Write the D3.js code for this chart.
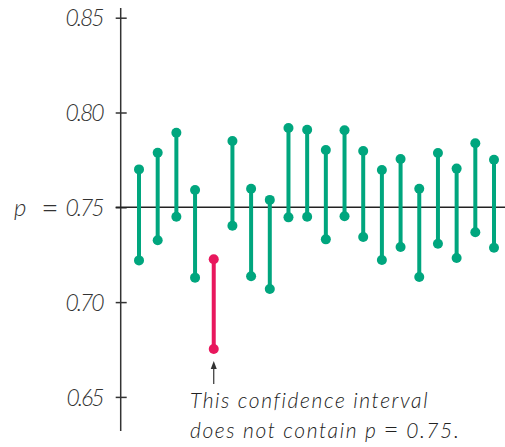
<!DOCTYPE html>
<html><head><meta charset="utf-8">
<script src="https://cdn.jsdelivr.net/npm/d3@7"></script>
<style>
html,body{margin:0;padding:0;background:#fff;}
svg text{font-family:Lato,"Open Sans",sans-serif;}
</style></head>
<body><svg id="c" width="505" height="447"></svg>
<script>
const intervals = d3.range(1, 21);
const upper = [0.7700,0.7788,0.7893,0.7591,0.7226,0.7850,0.7598,0.7539,0.7918,0.7909,0.7802,0.7906,0.7797,0.7697,0.7755,0.7598,0.7786,0.7704,0.7838,0.7751];
const lower = [0.7220,0.7326,0.7450,0.7129,0.6753,0.7403,0.7136,0.7069,0.7447,0.7450,0.7331,0.7453,0.7343,0.7222,0.7291,0.7132,0.7308,0.7233,0.7368,0.7287];
const tickValues = [0.65,0.70,0.75,0.80,0.85];
const trueP = 0.75;
const noteLines = ["This confidence interval", "does not contain "];

const svg = d3.select("#c");
const x = d3.scalePoint().domain(intervals).range([139, 494]);
const y = d3.scaleLinear().domain([0.65, 0.85]).range([396.9, 17.7]);
const axisX = 120.7;
const green = "#00a67e", red = "#e8175d", ink = "#333";

// axis
svg.append("line").attr("x1",axisX).attr("x2",axisX).attr("y1",8).attr("y2",431)
  .attr("stroke",ink).attr("stroke-width",1.5);
const ax = svg.append("g").attr("transform",`translate(${axisX},0)`)
  .call(d3.axisLeft(y).tickValues(tickValues).tickSize(5).tickSizeOuter(0).tickPadding(20)
    .tickFormat(d3.format(".2f")));
ax.select(".domain").remove();
ax.selectAll(".tick line").attr("x2",6).attr("x1",-5).attr("stroke",ink).attr("stroke-width",1.5);
ax.selectAll(".tick text").attr("fill",ink).attr("font-size",23).attr("font-style","italic")
  .attr("font-weight",300).attr("x",-18).attr("letter-spacing",-2).attr("dy","0.36em");

// "p =" prefix for the 0.75 tick
svg.append("text").attr("x",14).attr("y",y(trueP)).attr("dy","0.36em")
  .attr("fill",ink).attr("font-size",24).attr("font-style","italic").attr("font-weight",300).text("p");
svg.append("text").attr("x",50).attr("y",y(trueP)).attr("dy","0.36em").attr("text-anchor","middle")
  .attr("fill",ink).attr("font-size",30).attr("font-weight",300).text("=");

// horizontal reference
svg.append("line").attr("x1",axisX-5).attr("x2",505).attr("y1",y(trueP)).attr("y2",y(trueP))
  .attr("stroke","#222").attr("stroke-width",1.5);

// intervals
const data = intervals.map((d,i)=>({i:d, lo:lower[i], hi:upper[i], miss: lower[i]>trueP || upper[i]<trueP}));
const g = svg.append("g");
g.selectAll("line.ci").data(data).join("line").attr("class","ci")
  .attr("x1",d=>x(d.i)).attr("x2",d=>x(d.i)).attr("y1",d=>y(d.hi)).attr("y2",d=>y(d.lo))
  .attr("stroke",d=>d.miss?red:green).attr("stroke-width",4);
g.selectAll("circle.hi").data(data).join("circle").attr("cx",d=>x(d.i)).attr("cy",d=>y(d.hi)).attr("r",5)
  .attr("fill",d=>d.miss?red:green);
g.selectAll("circle.lo").data(data).join("circle").attr("cx",d=>x(d.i)).attr("cy",d=>y(d.lo)).attr("r",5)
  .attr("fill",d=>d.miss?red:green);

// arrow + note
const missed = data.find(d=>d.miss);
const ax0 = x(missed.i);
svg.append("line").attr("x1",ax0).attr("x2",ax0).attr("y1",384).attr("y2",366).attr("stroke",ink).attr("stroke-width",1.2);
svg.append("path").attr("d",`M${ax0},361 L${ax0-3},369 L${ax0+3},369 Z`).attr("fill",ink);
const nt = svg.append("g").attr("fill","#222").attr("font-size",21).attr("font-style","italic").attr("font-weight",300);
nt.append("text").attr("x",190).attr("y",408).attr("letter-spacing",1.6).text(noteLines[0]);
const t2 = nt.append("text").attr("x",190).attr("y",438).attr("letter-spacing",1.6);
t2.append("tspan").text(noteLines[1]);
t2.append("tspan").text("p");
t2.append("tspan").attr("dx",6).attr("font-size",26).attr("font-style","normal").text("=");
t2.append("tspan").attr("dx",6).text(d3.format(".2f")(trueP) + ".");
</script></body></html>
